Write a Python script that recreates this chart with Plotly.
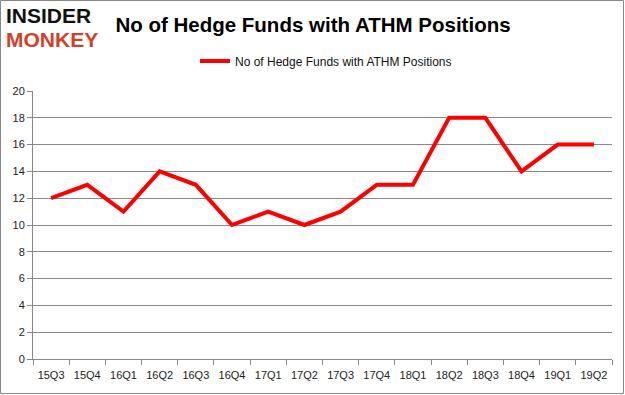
import plotly.graph_objects as go

quarters = ["15Q3", "15Q4", "16Q1", "16Q2", "16Q3", "16Q4", "17Q1", "17Q2",
            "17Q3", "17Q4", "18Q1", "18Q2", "18Q3", "18Q4", "19Q1", "19Q2"]
funds = [12, 13, 11, 14, 13, 10, 11, 10, 11, 13, 13, 18, 18, 14, 16, 16]
series_name = "No of Hedge Funds with ATHM Positions"
y_ticks = [0, 2, 4, 6, 8, 10, 12, 14, 16, 18, 20]

W, H = 625, 395
L, R, T, B = 33, 13, 91, 36
pw, ph = W - L - R, H - T - B

fig = go.Figure()
fig.add_trace(go.Scatter(
    x=quarters, y=funds, mode="lines", name=series_name,
    line=dict(color="#ff0000", width=4),
))

fig.update_layout(
    width=W, height=H,
    margin=dict(l=L, r=R, t=T, b=B, autoexpand=False),
    paper_bgcolor="white", plot_bgcolor="white",
    font=dict(family="Liberation Sans, Arial, sans-serif", size=11, color="#222"),
    showlegend=True,
    legend=dict(orientation="h", x=(326 - L) / pw, xanchor="center", y=1 + (T - 61) / ph,
                yanchor="middle", font=dict(size=12, color="#111"),
                bgcolor="rgba(0,0,0,0)", itemwidth=30),
    title=dict(text="<b>No of Hedge Funds with ATHM Positions</b>",
               x=313 / W, xanchor="center", y=1 - 25 / H, yanchor="middle",
               font=dict(family="Liberation Sans, Arial, sans-serif", size=20.5, color="#000")),
    xaxis=dict(type="category", range=[-0.5, 15.5], showgrid=False,
               showline=True, linecolor="#888", linewidth=1,
               ticks="outside", tickson="boundaries", ticklen=5, tickcolor="#888",
               ticklabelstandoff=6,
               tickfont=dict(size=11, color="#222")),
    yaxis=dict(range=[0, 20], tickvals=y_ticks, showgrid=True, gridcolor="#888",
               gridwidth=1, showline=True, linecolor="#888", linewidth=1,
               ticks="outside", ticklen=5, tickcolor="#888", zeroline=False,
               tickfont=dict(size=11, color="#222")),
)

# logo
fig.add_annotation(xref="paper", yref="paper", x=(4 - L) / pw, y=1 + (T - 16) / ph,
                   xanchor="left", yanchor="middle", showarrow=False,
                   text="<b>INSIDER</b>",
                   font=dict(family="Liberation Sans, Arial, sans-serif", size=21, color="#111"))
fig.add_annotation(xref="paper", yref="paper", x=(4 - L) / pw, y=1 + (T - 40) / ph,
                   xanchor="left", yanchor="middle", showarrow=False,
                   text="<b>MONKEY</b>",
                   font=dict(family="Liberation Sans, Arial, sans-serif", size=21, color="#d2402b"))

# outer border
fig.add_shape(type="rect", xref="paper", yref="paper",
              x0=(-L + 0.5) / pw, x1=1 + (R - 1.5) / pw,
              y0=(-B + 1.5) / ph, y1=1 + (T - 0.5) / ph,
              line=dict(color="#888", width=1), fillcolor="rgba(0,0,0,0)")

fig.write_html("out.html", config={"displayModeBar": False},
               post_script="document.body.style.margin='0';document.body.style.overflow='hidden';")
